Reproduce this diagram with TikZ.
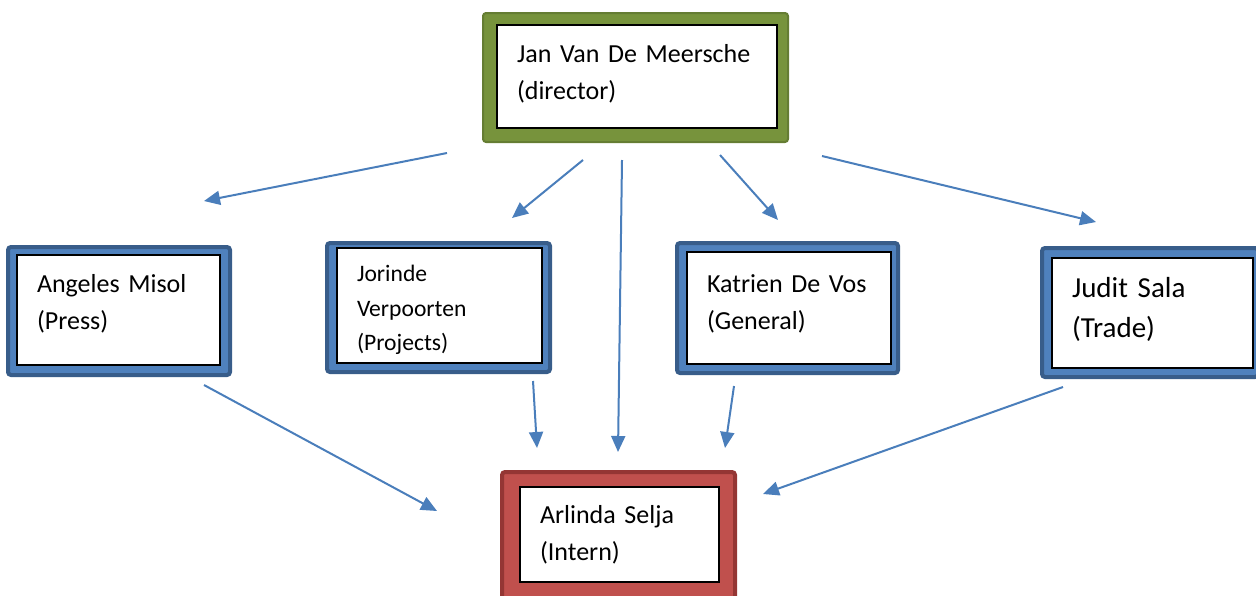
\documentclass[tikz,border=0pt]{standalone}
\usepackage{fontspec}
\setmainfont{Carlito}
\usepackage{xcolor}
\usepackage{tikz}
\usetikzlibrary{arrows.meta}

\definecolor{bossgreen}{HTML}{77933C}
\definecolor{staffblue}{HTML}{4F81BD}
\definecolor{staffedge}{HTML}{385D8A}
\definecolor{internred}{HTML}{C0504D}
\definecolor{internedge}{HTML}{943634}
\definecolor{linkblue}{HTML}{4A7EBB}

\begin{document}
\begin{tikzpicture}[
    x=0.5pt, y=-0.5pt,
    frame/.style={rectangle, rounded corners=1.5pt, inner sep=0pt},
    bossframe/.style={frame, fill=bossgreen, draw=bossgreen!85!black, line width=1pt},
    staffframe/.style={frame, fill=staffblue, draw=staffedge, line width=2pt},
    internframe/.style={frame, fill=internred, draw=internedge, line width=2pt},
    card/.style={rectangle, draw=black, line width=0.7pt, fill=white, align=left, inner xsep=10pt, inner ysep=0pt, font=\fontsize{13}{18.5}\selectfont},
    arrow/.style={-{Triangle[length=8pt, width=7pt]}, line width=1pt, draw=linkblue},
  ]
  \useasboundingbox (0,0) rectangle (1256,595);

  % Director
  \node[bossframe, minimum width=152.5pt, minimum height=64.5pt] (dirF) at (635.5,77.5) {};
  \node[card, text width=120pt, minimum height=51.5pt, text depth=23.3pt] (dir) at (637,76.5) {Jan Van De Meersche\\(director)};

  % Staff
  \node[staffframe, minimum width=111pt, minimum height=64pt] (pressF) at (119,311) {};
  \node[card, text width=81.5pt, minimum height=55pt, text depth=26.3pt] (press) at (118.5,310) {Angeles Misol\\(Press)};

  \node[staffframe, minimum width=111.5pt, minimum height=64.5pt] (projF) at (438.5,307.5) {};
  \node[card, text width=82.5pt, minimum height=57.5pt, text height=12.9pt, font=\fontsize{11.8}{17.25}\selectfont] (proj) at (439.5,305.5) {Jorinde\\Verpoorten\\(Projects)};

  \node[staffframe, minimum width=110.5pt, minimum height=65pt] (genF) at (787.5,308) {};
  \node[card, text width=82pt, minimum height=56pt, text depth=24.3pt] (gen) at (789,308) {Katrien De Vos\\(General)};

  \node[staffframe, minimum width=108pt, minimum height=64.5pt] (tradeF) at (1150,312.5) {};
  \node[card, text width=80.5pt, minimum height=55pt, text depth=25.6pt, font=\fontsize{14.5}{20}\selectfont] (trade) at (1152.5,313) {Judit Sala\\(Trade)};

  % Intern
  \node[internframe, minimum width=116.5pt, minimum height=66.5pt] (internF) at (618.5,538.5) {};
  \node[card, text width=79.5pt, minimum height=47.5pt] (intern) at (619.5,534.5) {Arlinda Selja\\(Intern)};

  % Arrow ends below the director
  \coordinate (dirOutP) at (447,153);
  \coordinate (dirOutJ) at (583,160);
  \coordinate (dirOutI) at (622,160);
  \coordinate (dirOutG) at (720,155);
  \coordinate (dirOutT) at (822,156);
  % Arrow ends above the staff
  \coordinate (pressIn) at (204,201);
  \coordinate (projIn) at (512,218);
  \coordinate (genIn) at (778,220);
  \coordinate (tradeIn) at (1096,222);
  % Arrow ends below the staff
  \coordinate (pressOut) at (204,385);
  \coordinate (projOut) at (533,381);
  \coordinate (genOut) at (734,386);
  \coordinate (tradeOut) at (1063,387);
  % Arrow ends above the intern
  \coordinate (internInP) at (437,511);
  \coordinate (internInJ) at (537,448);
  \coordinate (internInD) at (618,452);
  \coordinate (internInG) at (725,448);
  \coordinate (internInT) at (763,494);

  % Arrows
  \draw[arrow] (dirOutP) -- (pressIn);
  \draw[arrow] (dirOutJ) -- (projIn);
  \draw[arrow] (dirOutI) -- (internInD);
  \draw[arrow] (dirOutG) -- (genIn);
  \draw[arrow] (dirOutT) -- (tradeIn);
  \draw[arrow] (pressOut) -- (internInP);
  \draw[arrow] (projOut) -- (internInJ);
  \draw[arrow] (genOut) -- (internInG);
  \draw[arrow] (tradeOut) -- (internInT);

\end{tikzpicture}
\end{document}
